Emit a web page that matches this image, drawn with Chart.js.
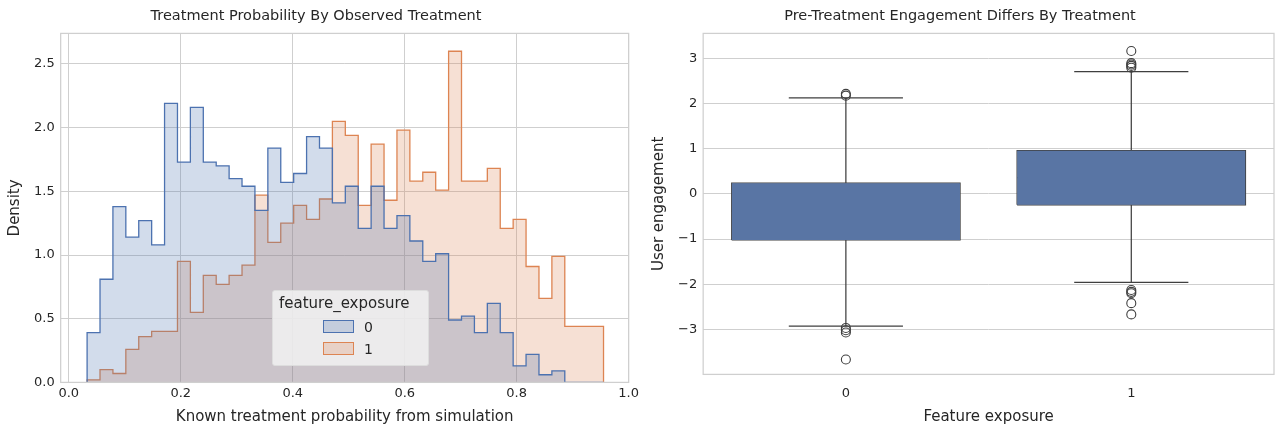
<!DOCTYPE html>
<html>
<head>
<meta charset="utf-8">
<script src="https://cdn.jsdelivr.net/npm/chart.js@4.4.1/dist/chart.umd.min.js"></script>
<style>
  body { margin: 0; background: #fff; width: 1284px; height: 434px; overflow: hidden; font-family: "DejaVu Sans", sans-serif; }
  .panel { position: absolute; top: 0; height: 434px; }
  #legend { position: absolute; left: 272px; top: 290px; width: 155px; height: 74px; background: rgba(242,242,242,0.85);
    border: 1px solid #ddd; border-radius: 3px; font-size: 15px; color: #262626; }
  #legend .t { position: absolute; left: 6px; top: 3px; }
  #legend .row { position: absolute; left: 50px; font-size: 14px; }
  #legend .sw { display: inline-block; width: 29px; height: 11px; vertical-align: -1px; margin-right: 10px; }
</style>
</head>
<body>
<div class="panel" style="left:0;width:642px"><canvas id="histChart"></canvas></div>
<div class="panel" style="left:642px;width:642px"><canvas id="boxChart"></canvas></div>
<div id="legend">
  <div class="t">feature_exposure</div>
  <div class="row" style="top:28px"><span class="sw" style="background:rgba(76,114,176,0.25);border:1px solid #4c72b0"></span>0</div>
  <div class="row" style="top:50px"><span class="sw" style="background:rgba(221,132,82,0.25);border:1px solid #dd8452"></span>1</div>
</div>
<script>
// ==============================
// DATA
// ==============================
const binStart = 0.0327;
const binWidth = 0.02306;

const density0 = [0.09, 0.39, 0.81, 1.38, 1.14, 1.27, 1.08, 2.19, 1.73, 2.16,
  1.73, 1.70, 1.60, 1.54, 1.35, 1.84, 1.57, 1.64, 1.93, 1.84,
  1.41, 1.54, 1.21, 1.54, 1.21, 1.31, 1.11, 0.95, 1.01, 0.49,
  0.52, 0.39, 0.62, 0.39, 0.13, 0.22, 0.06, 0.09, 0, 0];

const density1 = [0, 0.02, 0.10, 0.07, 0.26, 0.36, 0.40, 0.40, 0.95, 0.55,
  0.84, 0.77, 0.84, 0.92, 1.47, 1.10, 1.25, 1.39, 1.28, 1.44,
  2.05, 1.94, 1.39, 1.87, 1.43, 1.98, 1.58, 1.65, 1.51, 2.60,
  1.58, 1.58, 1.68, 1.21, 1.28, 0.91, 0.66, 0.99, 0.44, 0.44];

const histXTicks = [0, 0.2, 0.4, 0.6, 0.8, 1.0];
const histYTicks = [0, 0.5, 1.0, 1.5, 2.0, 2.5];

const boxCategories = [0, 1];
const boxQ1 = [-1.02, -0.24];
const boxMedian = [-0.38, 0.36];
const boxQ3 = [0.24, 0.96];
const whiskerLow = [-2.93, -1.96];
const whiskerHigh = [2.13, 2.71];
const outliers0 = [2.22, 2.18, -2.97, -3.02, -3.07, -3.67];
const outliers1 = [3.17, 2.90, 2.87, 2.84, 2.80, -2.13, -2.17, -2.20, -2.42, -2.67];
const boxYTicks = [-3, -2, -1, 0, 1, 2, 3];

// ==============================
// STYLE
// ==============================
const FONT = "DejaVu Sans";
const GRID = "#cfcfcf";
const TEXT = "#262626";
Chart.defaults.font.family = FONT;
Chart.defaults.color = TEXT;
Chart.defaults.animation = false;

const frame = {
  id: "frame",
  afterDraw(c) {
    const a = c.chartArea, ctx = c.ctx;
    ctx.save();
    ctx.strokeStyle = GRID;
    ctx.lineWidth = 1.25;
    ctx.strokeRect(a.left, a.top, a.right - a.left, a.bottom - a.top);
    ctx.restore();
  }
};

// ==============================
// HISTOGRAM
// ==============================
function stepPoints(values) {
  const pts = [{ x: binStart, y: 0 }];
  values.forEach((v, i) => pts.push({ x: binStart + i * binWidth, y: v }));
  const end = binStart + values.length * binWidth;
  pts.push({ x: end, y: values[values.length - 1] });
  pts.push({ x: end, y: 0 });
  return pts;
}

function histDataset(values, line, fill) {
  return {
    data: stepPoints(values),
    stepped: "after",
    borderColor: line,
    backgroundColor: fill,
    borderWidth: 1.3,
    pointRadius: 0,
    fill: "origin"
  };
}

new Chart(document.getElementById("histChart"), {
  type: "line",
  data: {
    datasets: [
      histDataset(density0, "#4c72b0", "rgba(76,114,176,0.25)"),
      histDataset(density1, "#dd8452", "rgba(221,132,82,0.25)")
    ]
  },
  options: {
    responsive: true,
    maintainAspectRatio: false,
    layout: { padding: { left: 2, right: 12, top: 4, bottom: 4 } },
    plugins: {
      legend: { display: false },
      tooltip: { enabled: false },
      title: { display: true, text: "Treatment Probability By Observed Treatment", font: { size: 14.5, weight: "normal" }, padding: { top: 4, bottom: 8 }, color: TEXT }
    },
    scales: {
      x: {
        type: "linear", min: -0.0145, max: 1.0,
        afterBuildTicks: ax => { ax.ticks = histXTicks.map(v => ({ value: v })); },
        ticks: { font: { size: 13 }, color: TEXT, callback: v => v.toFixed(1), maxRotation: 0 },
        grid: { color: GRID, drawTicks: false },
        border: { display: false },
        title: { display: true, text: "Known treatment probability from simulation", font: { size: 15 }, color: TEXT, padding: { top: 4 } }
      },
      y: {
        min: 0, max: 2.74,
        afterBuildTicks: ax => { ax.ticks = histYTicks.map(v => ({ value: v })); },
        ticks: { font: { size: 13 }, color: TEXT, callback: v => v.toFixed(1), padding: 6 },
        grid: { color: GRID, drawTicks: false },
        border: { display: false },
        title: { display: true, text: "Density", font: { size: 15 }, color: TEXT }
      }
    }
  },
  plugins: [frame]
});

// ==============================
// BOXPLOT
// ==============================
const BOX_FILL = "#5975a4";
const BOX_LINE = "#3f3f3f";
const half = 0.4, cap = 0.2;

const boxSets = [];
boxCategories.forEach((c, i) => {
  const seg = pts => ({ data: pts, borderColor: BOX_LINE, borderWidth: 1.25, pointRadius: 0, fill: false, showLine: true });
  boxSets.push({ data: [{ x: c - half, y: boxQ3[i] }, { x: c + half, y: boxQ3[i] }], borderWidth: 0, pointRadius: 0, showLine: true, backgroundColor: BOX_FILL, fill: "+1" });
  boxSets.push({ data: [{ x: c - half, y: boxQ1[i] }, { x: c + half, y: boxQ1[i] }], borderWidth: 0, pointRadius: 0, showLine: true, fill: false });
  boxSets.push(seg([{ x: c - half, y: boxQ1[i] }, { x: c + half, y: boxQ1[i] }, { x: c + half, y: boxQ3[i] }, { x: c - half, y: boxQ3[i] }, { x: c - half, y: boxQ1[i] }]));
  boxSets.push(seg([{ x: c - half, y: boxMedian[i] }, { x: c + half, y: boxMedian[i] }]));
  boxSets.push(seg([{ x: c, y: boxQ3[i] }, { x: c, y: whiskerHigh[i] }]));
  boxSets.push(seg([{ x: c, y: boxQ1[i] }, { x: c, y: whiskerLow[i] }]));
  boxSets.push(seg([{ x: c - cap, y: whiskerHigh[i] }, { x: c + cap, y: whiskerHigh[i] }]));
  boxSets.push(seg([{ x: c - cap, y: whiskerLow[i] }, { x: c + cap, y: whiskerLow[i] }]));
});
[outliers0, outliers1].forEach((list, i) => {
  boxSets.push({
    data: list.map(v => ({ x: boxCategories[i], y: v })),
    showLine: false, pointRadius: 4.5, pointBorderWidth: 1.1,
    pointBorderColor: BOX_LINE, pointBackgroundColor: "rgba(0,0,0,0)"
  });
});

new Chart(document.getElementById("boxChart"), {
  type: "scatter",
  data: { datasets: boxSets },
  options: {
    responsive: true,
    maintainAspectRatio: false,
    layout: { padding: { left: 4, right: 10, top: 4, bottom: 4 } },
    plugins: {
      legend: { display: false },
      tooltip: { enabled: false },
      title: { display: true, text: "Pre-Treatment Engagement Differs By Treatment", font: { size: 14.5, weight: "normal" }, padding: { top: 4, bottom: 8 }, color: TEXT }
    },
    scales: {
      x: {
        type: "linear", min: -0.5, max: 1.5,
        afterBuildTicks: ax => { ax.ticks = boxCategories.map(v => ({ value: v })); },
        ticks: { font: { size: 13 }, color: TEXT, callback: v => String(v) },
        grid: { display: false },
        border: { display: false },
        title: { display: true, text: "Feature exposure", font: { size: 15 }, color: TEXT, padding: { top: 4 } }
      },
      y: {
        min: -4.0, max: 3.56,
        afterBuildTicks: ax => { ax.ticks = boxYTicks.map(v => ({ value: v })); },
        ticks: { font: { size: 13 }, color: TEXT, padding: 6, callback: v => String(v).replace("-", "\u2212") },
        grid: { color: GRID, drawTicks: false },
        border: { display: false },
        title: { display: true, text: "User engagement", font: { size: 15 }, color: TEXT }
      }
    }
  },
  plugins: [frame]
});
</script>
</body>
</html>
